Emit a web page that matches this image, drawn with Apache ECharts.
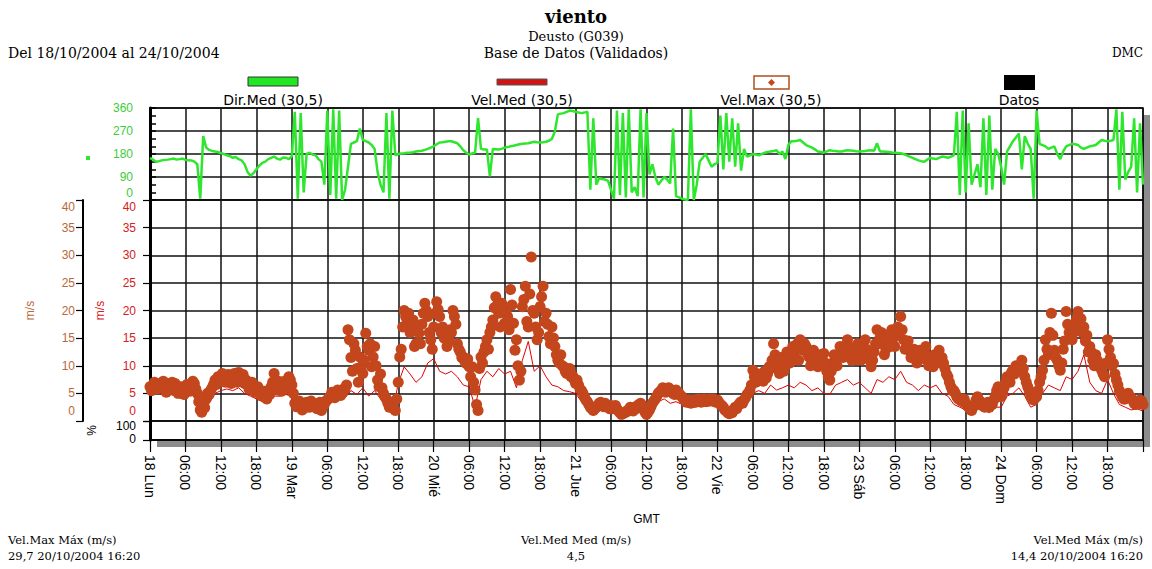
<!DOCTYPE html>
<html><head><meta charset="utf-8">
<script src="https://cdn.jsdelivr.net/npm/echarts@6.0.0/dist/echarts.min.js"></script>
<style>html,body{margin:0;padding:0;background:#fff}#c{width:1152px;height:569px}</style>
</head><body><div id="c"></div>
<script>
// x axis: hours since 18/10/2004 00:00 GMT, one label every 6 h
const xTickLabels = ['18 Lun','06:00','12:00','18:00','19 Mar','06:00','12:00','18:00','20 Mié','06:00','12:00','18:00',
  '21 Jue','06:00','12:00','18:00','22 Vie','06:00','12:00','18:00','23 Sáb','06:00','12:00','18:00',
  '24 Dom','06:00','12:00','18:00',''];

// Dir.Med (degrees), one value every 30 min from 00:00
const dirMed = [
165,158,150,152,155,157,158,160,162,158,160,162,157,156,155,150,140,5,250,205,
196,192,190,188,183,180,175,172,165,168,160,155,140,110,95,105,120,135,145,150,
160,165,170,162,158,166,165,160,172,345,5,340,30,180,185,178,175,160,150,60,
350,20,355,5,350,0,40,130,220,225,230,280,235,230,225,215,200,110,60,30,
340,5,350,175,180,182,183,185,185,187,190,192,193,196,200,205,210,218,225,226,
228,230,230,226,222,210,195,185,178,182,185,320,200,198,198,92,200,199,198,200,
205,207,210,212,215,218,220,221,222,225,228,226,225,226,228,232,240,268,335,338,
340,345,350,348,345,342,340,342,345,40,320,60,85,82,80,75,40,5,350,20,
340,10,355,30,50,15,355,10,340,100,140,90,60,75,90,80,65,280,15,10,
5,2,0,355,0,60,150,165,180,155,130,140,145,330,120,340,150,320,130,300,
115,200,170,175,180,178,175,180,185,188,190,192,195,180,190,160,215,230,230,232,
235,225,215,210,205,198,190,188,185,190,195,193,192,190,190,193,195,194,193,191,
190,191,192,194,195,193,222,190,190,189,188,186,185,184,183,180,175,170,165,160,
155,152,150,158,165,162,160,165,170,168,165,170,175,345,20,350,30,300,60,100,
140,50,320,20,330,40,200,180,130,60,190,210,230,245,260,120,250,220,200,5,
350,220,215,210,200,205,210,180,160,190,210,215,220,218,215,205,200,205,210,212,
215,225,235,232,230,232,235,355,40,345,80,110,130,320,30,300,
60];

// Vel.Max (m/s), readings on the hour and half hour
const velMax = [
6.2,6.5,6.8,6.0,6.3,5.8,6.8,6.2,6.0,5.5,5.6,5.0,5.5,6.2,6.5,6.8,5.0,2.0,3.0,4.0,
4.8,6.0,7.4,8.0,7.8,8.2,7.5,8.0,7.6,8.0,8.8,7.8,6.8,6.5,6.2,5.8,5.6,5.2,4.8,4.4,
5.5,6.2,8.6,5.6,6.0,6.5,5.8,8.0,6.5,3.2,2.8,2.5,3.0,3.4,2.5,3.2,3.0,2.4,1.9,3.0,
3.8,4.5,5.0,4.8,5.3,5.0,5.8,16.5,11.5,14.0,9.5,11.6,8.6,15.9,12.8,9.8,13.5,7.4,8.5,5.0,
4.0,2.5,3.0,1.9,7.0,13.0,20.0,18.3,16.0,18.3,14.0,15.9,17.5,21.3,18.9,14.7,17.0,21.6,18.9,17.0,
15.5,14.7,16.0,18.9,14.0,12.5,11.6,10.4,9.8,9.8,5.6,1.9,11.6,12.5,14.7,16.0,18.3,22.5,19.5,21.3,
17.7,18.9,23.8,17.7,14.7,7.4,20.7,24.4,17.0,29.7,19.5,14.7,20.7,24.4,19.5,15.3,17.0,13.5,11.0,12.0,
9.8,8.6,9.5,8.2,6.8,6.5,5.5,4.4,3.5,2.5,1.9,2.5,3.2,3.0,3.2,2.5,2.8,2.5,2.2,1.5,
1.3,1.6,1.9,2.2,2.5,2.8,3.2,2.5,1.2,2.0,3.2,4.0,5.0,5.5,5.9,5.5,5.3,5.0,5.6,5.0,
4.4,3.8,3.5,3.2,3.8,3.5,3.8,3.6,3.8,3.8,3.6,3.8,3.8,3.0,2.5,1.8,1.3,1.5,2.5,2.8,
3.5,3.8,4.8,5.6,9.2,7.0,7.4,8.0,9.0,8.6,10.0,14.0,9.5,8.6,11.0,10.0,12.0,12.2,11.6,14.0,
14.7,12.8,13.5,11.6,10.5,11.6,9.8,11.0,12.2,9.0,7.4,10.5,11.6,12.0,12.8,13.5,14.7,12.5,11.0,12.0,
13.5,12.0,14.7,12.0,9.8,12.5,16.5,15.0,14.7,13.0,15.0,16.5,13.5,17.0,18.9,14.7,13.5,12.8,12.0,11.5,
11.0,12.2,12.5,11.0,10.4,9.8,11.0,12.8,11.5,9.5,8.0,6.2,5.5,4.4,4.0,3.5,3.2,2.5,1.9,3.0,
4.4,3.5,3.2,2.8,2.5,3.0,4.5,6.2,4.4,6.0,8.0,7.0,9.2,10.0,9.0,11.0,8.0,6.2,4.5,3.8,
4.4,7.0,9.2,14.7,12.0,19.5,12.8,11.0,9.2,13.0,19.8,16.0,14.7,17.5,19.8,18.5,17.0,15.5,13.5,11.0,
12.0,10.5,9.2,8.0,14.7,11.5,10.4,7.4,5.5,4.4,4.0,5.0,4.2,3.2,3.5,3.8,
3.0];

// Vel.Max (m/s), readings at quarter past and quarter to
const velMaxQ = [
5.5,7.0,5.8,6.8,7.2,5.2,5.6,7.0,6.8,5.0,6.2,4.8,6.6,5.4,7.2,5.8,3.5,1.6,2.4,5.0,
5.5,6.6,6.6,7.2,8.6,7.0,8.4,6.8,8.6,7.0,7.2,8.4,7.4,5.8,7.0,5.2,6.2,4.6,5.4,4.0,
4.8,7.0,6.5,7.2,5.4,7.2,6.6,7.4,5.0,2.6,3.6,2.0,2.4,2.8,3.6,2.6,2.2,3.4,2.6,3.6,
4.2,5.2,4.2,5.6,4.6,5.8,6.5,14.7,9.0,12.8,7.0,9.8,11.0,13.5,14.0,11.6,10.0,6.2,6.0,4.4,
3.2,3.4,2.2,4.0,11.6,17.0,18.9,19.5,17.0,13.5,16.5,14.0,19.5,20.0,16.0,13.0,19.5,20.2,16.0,15.0,
13.5,16.5,20.0,17.5,13.0,11.5,10.8,11.2,8.0,7.0,3.0,9.5,10.5,13.5,13.0,17.0,20.5,21.0,17.0,19.8,
20.0,16.5,21.0,12.8,10.0,9.0,22.0,18.0,23.0,20.0,17.0,16.0,22.5,18.0,17.5,14.0,15.0,12.0,10.5,10.0,
9.0,9.2,8.0,7.5,7.4,5.8,5.0,3.8,3.0,2.2,2.2,2.8,3.4,2.6,2.8,2.2,2.2,2.8,1.8,1.2,
1.5,1.9,2.5,1.8,2.2,3.0,2.8,1.6,1.6,2.6,3.6,4.5,5.3,6.0,5.2,6.0,5.6,4.8,5.2,4.6,
4.0,3.4,3.8,3.4,3.4,4.0,3.4,4.0,3.6,4.0,4.0,3.4,3.4,2.8,2.0,1.5,1.8,2.0,2.2,3.2,
3.2,4.2,5.0,6.5,8.0,8.5,8.5,7.2,7.8,9.8,11.0,12.0,10.0,11.5,9.0,12.5,10.5,13.5,12.8,11.0,
13.0,14.0,12.2,10.0,12.8,10.2,12.0,10.5,10.5,8.0,9.0,12.0,10.0,13.5,11.5,12.0,13.5,11.0,13.0,14.0,
11.0,13.0,13.0,11.0,11.0,14.0,14.0,16.0,12.0,15.5,13.5,15.0,15.5,16.0,16.5,13.0,14.5,11.5,13.0,10.5,
12.8,11.5,13.5,10.0,11.5,12.0,12.0,10.5,10.5,8.5,7.0,5.5,5.0,4.0,3.6,4.0,2.8,2.2,2.5,3.8,
3.8,2.8,2.5,3.4,3.4,3.8,5.5,5.0,5.2,7.0,7.5,8.8,8.5,9.5,10.0,9.5,7.0,5.5,4.0,4.2,
5.5,8.0,11.0,13.0,16.0,15.5,11.5,10.0,10.5,14.5,17.5,15.0,16.0,18.5,17.0,16.0,14.5,12.5,12.5,10.0,
11.0,9.8,8.5,10.5,13.0,10.0,8.5,6.5,5.0,4.0,4.6,4.4,3.8,3.0,3.2,3.6];

// Vel.Med (m/s), hourly
const velMed = [
5.0,5.2,4.8,5.0,4.6,4.2,4.2,5.0,3.5,2.0,
3.2,5.0,5.5,5.8,5.5,6.0,5.0,4.5,4.0,3.5,
4.0,4.5,4.5,4.8,4.5,2.0,2.2,2.0,2.2,1.5,
2.8,3.8,4.0,4.2,5.5,4.8,6.0,4.5,5.5,4.0,
2.5,1.5,6.8,9.8,8.5,7.0,8.0,10.5,11.3,9.0,
8.5,9.0,8.0,6.5,6.2,2.5,7.5,9.0,8.0,9.5,
8.5,9.0,6.0,11.0,14.4,9.0,10.0,8.0,6.5,6.2,
5.5,5.3,5.0,3.5,2.5,1.5,2.0,2.2,1.8,1.5,
1.0,1.2,1.8,2.0,1.0,2.2,3.5,4.0,3.2,3.5,
3.0,2.8,2.5,2.8,2.6,2.8,2.8,1.8,1.0,1.5,
2.5,3.5,5.0,5.5,5.0,6.5,5.6,6.0,6.5,6.0,
7.0,6.5,5.5,6.0,5.0,4.8,6.5,7.0,7.5,6.5,
7.0,6.0,5.0,7.5,7.0,8.0,7.5,9.0,7.0,6.5,
5.5,6.5,6.0,6.5,5.0,4.5,3.0,2.5,2.0,1.2,
2.5,2.0,1.5,2.5,2.5,4.5,5.0,6.0,4.5,2.5,
3.0,5.0,6.5,6.0,5.5,8.0,7.5,9.0,12.0,7.0,
5.5,5.0,7.5,5.0,3.0,2.5,2.0,2.2,1.8];

const dirTicks = [0, 90, 180, 270, 360];
const speedTicks = [0, 5, 10, 15, 20, 25, 30, 35, 40];

const dirData = dirMed.map((v, i) => [i * 0.5, v]);
const maxData = velMax.map((v, i) => [i * 0.5, v]).concat(velMaxQ.map((v, i) => [i * 0.5 + 0.25, v]));
const medData = velMed.map((v, i) => [i, v]);

const SANS = '"Liberation Sans", Arial, sans-serif';
const SERIF = '"DejaVu Serif", serif';
const GREEN = '#2ee62e', RED = '#d42020', BROWN = '#b8683a', DOT = '#c4461c';

const chart = echarts.init(document.getElementById('c'), null, {renderer: 'svg'});

function xAx(grid, showLabels) {
  return {
    type: 'value', gridIndex: grid, min: 0, max: 168, interval: 6,
    axisLine: {show: showLabels, onZero: false, lineStyle: {color: '#000', width: 1.5}},
    axisTick: {show: showLabels, length: 12, lineStyle: {color: '#000', width: 1.2}},
    axisLabel: {show: showLabels, rotate: -90, margin: 15, fontFamily: SANS, fontSize: 14, color: '#000',
      showMinLabel: true, showMaxLabel: true,
      formatter: v => xTickLabels[Math.round(v / 6)] || ''},
    splitLine: {show: true, lineStyle: {color: '#111', width: 1.5}},
    name: showLabels ? 'GMT' : '', nameLocation: 'middle', nameGap: 73,
    nameTextStyle: {fontFamily: SANS, fontSize: 12, color: '#000'}
  };
}
function edgeFmt(top, bottom) {
  return v => v === top ? '{t|' + v + '}' : (v === bottom ? '{b|' + v + '}' : String(v));
}

const headText = {fontFamily: SERIF, fontSize: 14, fontWeight: 'normal', color: '#000'};
const subText = {fontFamily: SERIF, fontSize: 13, fontWeight: 'normal', color: '#000'};
const dmcText = {fontFamily: SERIF, fontSize: 12, fontWeight: 'normal', color: '#000'};
const footText = {fontFamily: SERIF, fontSize: 11.5, fontWeight: 'normal', color: '#000'};
const LEG_FONT = '14px "DejaVu Sans"';

chart.setOption({
  animation: false,
  backgroundColor: '#fff',
  title: [
    {text: 'viento', left: 'center', top: 7, padding: 0, textStyle: {fontFamily: SERIF, fontSize: 18, fontWeight: 'bold', color: '#000'}},
    {text: 'Deusto (G039)', left: 'center', top: 30, padding: 0, textStyle: subText},
    {text: 'Base de Datos (Validados)', left: 'center', top: 46, padding: 0, textStyle: headText},
    {text: 'Del 18/10/2004 al 24/10/2004', left: 8, top: 46, padding: 0, textStyle: headText},
    {text: 'DMC', right: 9, top: 47, padding: 0, textStyle: dmcText},
    {text: 'Vel.Max Máx (m/s)', left: 8, top: 534, padding: 0, textStyle: footText},
    {text: '29,7 20/10/2004 16:20', left: 8, top: 550, padding: 0, textStyle: footText},
    {text: 'Vel.Med Med (m/s)', left: 'center', top: 534, padding: 0, textStyle: footText},
    {text: '4,5', left: 'center', top: 550, padding: 0, textStyle: footText},
    {text: 'Vel.Med Máx (m/s)', right: 9, top: 534, padding: 0, textStyle: footText},
    {text: '14,4 20/10/2004 16:20', right: 9, top: 550, padding: 0, textStyle: footText}
  ],
  graphic: [
    {type: 'rect', z: -10, silent: true, shape: {x: 157, y: 115, width: 993, height: 332}, style: {fill: '#8c8c8c'}},
    {type: 'rect', shape: {x: 86, y: 156, width: 4, height: 4}, style: {fill: GREEN}},
    {type: 'rect', shape: {x: 248, y: 77, width: 50, height: 9}, style: {fill: '#22e622', stroke: '#333', lineWidth: 1}},
    {type: 'text', x: 273, y: 100, style: {text: 'Dir.Med (30,5)', font: LEG_FONT, fill: '#000', align: 'center', verticalAlign: 'middle'}},
    {type: 'rect', shape: {x: 497, y: 79, width: 50, height: 6}, style: {fill: '#d01515', stroke: '#555', lineWidth: 1}},
    {type: 'text', x: 522, y: 100, style: {text: 'Vel.Med (30,5)', font: LEG_FONT, fill: '#000', align: 'center', verticalAlign: 'middle'}},
    {type: 'rect', shape: {x: 754, y: 76, width: 35, height: 13}, style: {fill: '#fff', stroke: '#b0501e', lineWidth: 1.5}},
    {type: 'polygon', shape: {points: [[771.5, 79], [775, 82.5], [771.5, 86], [768, 82.5]]}, style: {fill: DOT}},
    {type: 'text', x: 771, y: 100, style: {text: 'Vel.Max (30,5)', font: LEG_FONT, fill: '#000', align: 'center', verticalAlign: 'middle'}},
    {type: 'rect', shape: {x: 1004, y: 75, width: 31, height: 15}, style: {fill: '#000'}},
    {type: 'text', x: 1019, y: 100, style: {text: 'Datos', font: LEG_FONT, fill: '#000', align: 'center', verticalAlign: 'middle'}}
  ],
  grid: [
    {left: 150, right: 9, top: 108, height: 92, show: true, backgroundColor: '#fff', borderColor: '#000', borderWidth: 1.5},
    {left: 150, right: 9, top: 200, height: 221, show: true, backgroundColor: '#fff', borderColor: '#000', borderWidth: 1.5},
    {left: 150, right: 9, top: 421, height: 19, show: true, backgroundColor: '#fff', borderColor: '#000', borderWidth: 1.5}
  ],
  xAxis: [xAx(0, false), xAx(1, false), xAx(2, true)],
  yAxis: [
    {type: 'value', gridIndex: 0, min: dirTicks[0], max: dirTicks[dirTicks.length - 1], interval: 90,
      axisLine: {show: true, lineStyle: {color: '#000', width: 3}},
      axisTick: {show: true, inside: true, length: 6, lineStyle: {color: '#000', width: 1.5}},
      minorTick: {show: true, splitNumber: 3, length: 6, lineStyle: {color: '#000', width: 1.5}},
      axisLabel: {margin: 17, fontFamily: SANS, fontSize: 12, color: '#3ccc3c', showMinLabel: true, showMaxLabel: true,
        formatter: edgeFmt(360, 0), rich: {t: {}, b: {padding: [0, 0, 14, 0]}}},
      splitLine: {show: true, lineStyle: {color: '#111', width: 1.5}}},
    {type: 'value', gridIndex: 1, min: speedTicks[0], max: speedTicks[speedTicks.length - 1], interval: 5,
      axisLine: {show: true, lineStyle: {color: '#000', width: 3}},
      axisTick: {show: true, length: 7, lineStyle: {color: '#000', width: 1.2}},
      axisLabel: {margin: 14, fontFamily: SANS, fontSize: 12, color: RED, showMinLabel: true, showMaxLabel: true,
        formatter: edgeFmt(40, 0), rich: {t: {padding: [13, 0, 0, 0]}, b: {padding: [0, 0, 20, 0]}}},
      splitLine: {show: true, lineStyle: {color: '#111', width: 1.5}},
      name: 'm/s', nameLocation: 'middle', nameRotate: 90, nameGap: 44,
      nameTextStyle: {fontFamily: SANS, fontSize: 12, color: RED}},
    {type: 'value', gridIndex: 1, position: 'left', offset: 67, min: speedTicks[0], max: speedTicks[speedTicks.length - 1], interval: 5,
      axisLine: {show: true, lineStyle: {color: '#000', width: 2}},
      axisTick: {show: true, length: 7, lineStyle: {color: '#000', width: 1.2}},
      axisLabel: {margin: 8, fontFamily: SANS, fontSize: 12, color: BROWN, showMinLabel: true, showMaxLabel: true,
        formatter: edgeFmt(40, 0), rich: {t: {padding: [13, 0, 0, 0]}, b: {padding: [0, 0, 20, 0]}}},
      splitLine: {show: false},
      name: 'm/s', nameLocation: 'middle', nameRotate: 90, nameGap: 47,
      nameTextStyle: {fontFamily: SANS, fontSize: 12, color: BROWN}},
    {type: 'value', gridIndex: 2, min: 0, max: 100, interval: 100,
      axisLine: {show: true, lineStyle: {color: '#000', width: 3}},
      axisTick: {show: true, length: 7, lineStyle: {color: '#000', width: 1.2}},
      axisLabel: {margin: 14, fontFamily: SANS, fontSize: 12, color: '#000', showMinLabel: true, showMaxLabel: true,
        formatter: edgeFmt(100, 0), rich: {t: {padding: [10, 0, 0, 0], lineHeight: 12}, b: {padding: [0, 0, 3, 0], lineHeight: 12}}},
      splitLine: {show: true, lineStyle: {color: '#111', width: 1.5}},
      name: '%', nameLocation: 'middle', nameRotate: 90, nameGap: 52,
      nameTextStyle: {fontFamily: SANS, fontSize: 12, color: '#000'}}
  ],
  series: [
    {name: 'Dir.Med (30,5)', type: 'line', xAxisIndex: 0, yAxisIndex: 0, data: dirData,
      showSymbol: false, lineStyle: {color: GREEN, width: 2.5}, z: 3},
    {name: 'Vel.Med (30,5)', type: 'line', xAxisIndex: 1, yAxisIndex: 1, data: medData,
      showSymbol: false, lineStyle: {color: '#e00000', width: 1}, z: 3},
    {name: 'Vel.Max (30,5)', type: 'scatter', xAxisIndex: 1, yAxisIndex: 1, data: maxData,
      symbol: 'circle', symbolSize: 11, itemStyle: {color: DOT, opacity: 1}, z: 4}
  ]
});
</script>
</body></html>
